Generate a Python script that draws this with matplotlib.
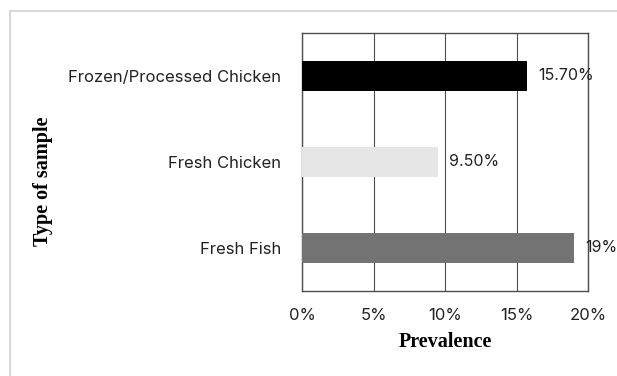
import matplotlib.pyplot as plt
from matplotlib.lines import Line2D

samples = ['Fresh Fish', 'Fresh Chicken', 'Frozen/Processed Chicken']
prevalence = [19.0, 9.5, 15.7]
value_labels = ['19%', '9.50%', '15.70%']
bar_colors = ['#737373', '#e6e6e6', '#000000']
x_ticks = [0, 5, 10, 15, 20]

fig = plt.figure(figsize=(6.17, 3.76), dpi=100)
ax = fig.add_axes([302 / 617, 1 - 291 / 376, 286 / 617, 258 / 376])

# Chart area frame (only the top and left edges show)
fig.add_artist(Line2D([10 / 617, 10 / 617], [0, 1 - 11 / 376], color='#d9d9d9', lw=1.5))
fig.add_artist(Line2D([10 / 617, 1], [1 - 11 / 376, 1 - 11 / 376], color='#d9d9d9', lw=1.5))

pos = range(len(samples))
ax.barh(pos, prevalence, height=0.34, color=bar_colors, zorder=3)
for p, v, lab in zip(pos, prevalence, value_labels):
    ax.text(v + 0.8, p, lab, va='center', ha='left', fontsize=11.5,
            family='Inter', color='#222222', zorder=4)

ax.set_xlim(0, 20)
ax.set_ylim(-0.5, 2.5)
ax.set_xticks(x_ticks)
ax.set_xticklabels([f'{t}%' for t in x_ticks], family='Inter', fontsize=12)
ax.set_yticks(list(pos))
ax.set_yticklabels(samples, family='Inter', fontsize=12)
ax.tick_params(length=0, colors='#222222')
ax.tick_params(axis='x', pad=12)
ax.tick_params(axis='y', pad=15)
ax.grid(axis='x', color='#4d4d4d', lw=0.8, zorder=1)
for s in ax.spines.values():
    s.set_color('#4d4d4d')
    s.set_linewidth(1)

fig.text(445 / 617, 1 - 342 / 376, 'Prevalence', ha='center', va='center',
         family='Liberation Serif', fontweight='bold', fontsize=14.5)
fig.text(43 / 617, 1 - 181 / 376, 'Type of sample', rotation=90, ha='center', va='center',
         family='Liberation Serif', fontweight='bold', fontsize=14.5)

fig.savefig('out.png', dpi=100)
